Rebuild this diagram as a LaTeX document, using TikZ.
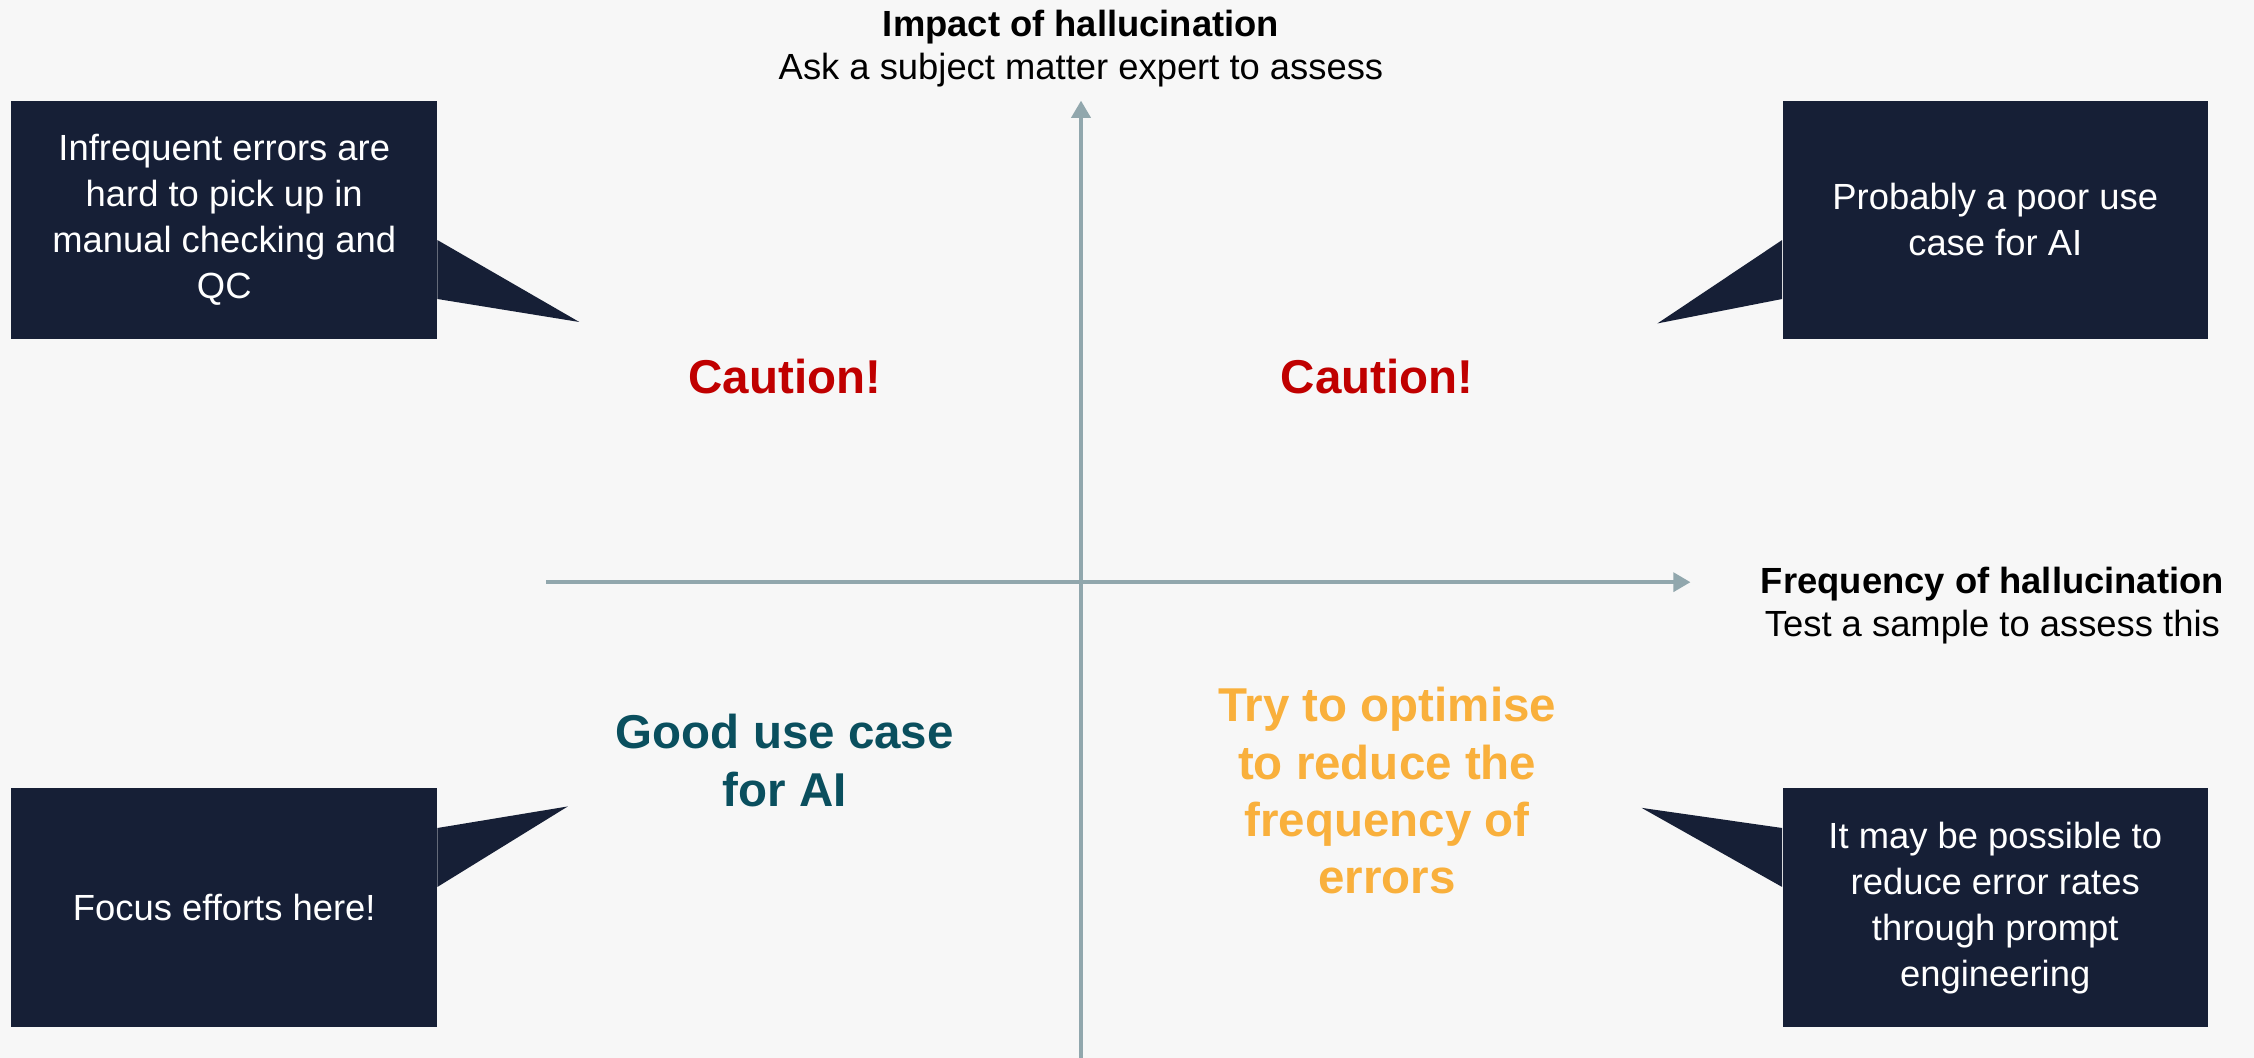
\documentclass[tikz,border=0pt]{standalone}
\usepackage{fontspec}
\setmainfont{Liberation Sans}
\usepackage{xcolor}
\usepackage{tikz}
\usetikzlibrary{arrows.meta,positioning}

\definecolor{bgGrey}{HTML}{F7F7F7}
\definecolor{boxNavy}{HTML}{161F36}
\definecolor{axisGrey}{HTML}{91A7AD}
\definecolor{warnRed}{HTML}{C00000}
\definecolor{goodTeal}{HTML}{0A4F5E}
\definecolor{tryAmber}{HTML}{F9B03C}

\tikzset{
    callout/.style={fill=boxNavy,text=white,align=center,inner sep=0pt,
        minimum width=74mm,minimum height=41.5mm,
        font=\fontsize{18}{22.7}\selectfont},
    quadlabel/.style={align=center,font=\bfseries\fontsize{23.5}{28.3}\selectfont},
    axislabel/.style={align=center,font=\fontsize{18}{21.3}\selectfont},
    axis/.style={axisGrey,line width=1.9pt,-{Triangle[width=3.3mm,length=3mm]}}
}

\begin{document}
\begin{tikzpicture}[x=0.25mm,y=-0.25mm]

    %page background, fixes the size too
    \useasboundingbox (0,0) rectangle (1568,736);
    \fill[bgGrey] (0,0) rectangle (1568,736);

    %the two axes
    \coordinate (ybot) at (752,736);
    \coordinate (ytop) at (752,70);
    \coordinate (xleft) at (380,405);
    \coordinate (xright) at (1176,405);
    \draw[axis] (ybot) -- (ytop);
    \draw[axis] (xleft) -- (xright);

    \node[axislabel] (impact) at (752,34)
        {\textbf{Impact of hallucination}\\Ask a subject matter expert to assess};
    \node[axislabel] (freq) at (1386,421)
        {\textbf{Frequency of hallucination}\\Test a sample to assess this};

    %quadrant labels
    \node[quadlabel,text=warnRed] (cautionL) at (546,262) {Caution!};
    \node[quadlabel,text=warnRed] (cautionR) at (958,262) {Caution!};
    \node[quadlabel,text=goodTeal] (good) at (546,529) {Good use case\\for AI};
    \node[quadlabel,text=tryAmber] (optimise) at (965,550)
        {Try to optimise\\to reduce the\\frequency of\\errors};

    %callout boxes with their pointers
    \node[callout] (noteTL) at (156,153)
        {Infrequent errors are\\hard to pick up in\\manual checking and\\QC};
    \fill[boxNavy] (noteTL.east |- 0,167) -- (403,224) -- (noteTL.east |- 0,208) -- cycle;

    \node[callout] (noteTR) at (1388,153) {Probably a poor use\\case for AI};
    \fill[boxNavy] (noteTR.west |- 0,167) -- (1153,225) -- (noteTR.west |- 0,208) -- cycle;

    \node[callout] (noteBL) at (156,631.5) {Focus efforts here!};
    \fill[boxNavy] (noteBL.east |- 0,576) -- (395,561) -- (noteBL.east |- 0,617) -- cycle;

    \node[callout] (noteBR) at (1388,631.5)
        {It may be possible to\\reduce error rates\\through prompt\\engineering};
    \fill[boxNavy] (noteBR.west |- 0,576) -- (1142,562) -- (noteBR.west |- 0,617) -- cycle;

\end{tikzpicture}
\end{document}
